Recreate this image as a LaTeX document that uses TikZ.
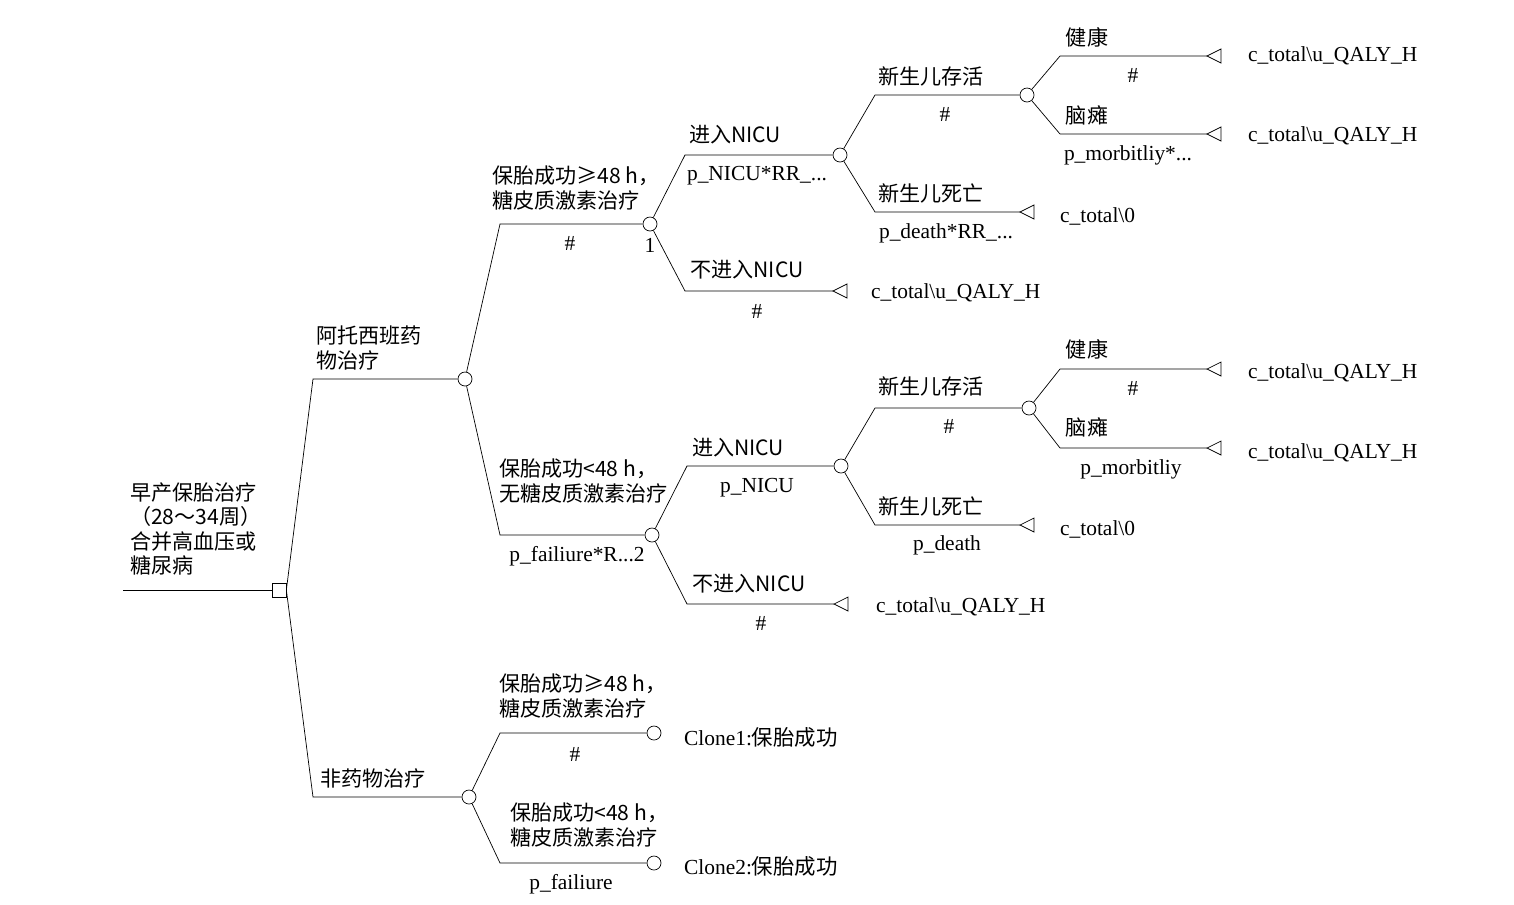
\documentclass[tikz,border=0pt]{standalone}
\usepackage{fontspec}
\setmainfont{Liberation Serif}
\newfontfamily\cjk{Noto Sans CJK SC}
\usetikzlibrary{positioning}

\tikzset{
  chance/.style={circle,draw,fill=white,inner sep=0pt,minimum size=0.28cm},
  decide/.style={rectangle,draw,fill=white,inner sep=0pt,minimum size=0.28cm},
  lbl/.style={inner sep=1pt,font=\cjk\fontsize{12}{14}\selectfont},
  val/.style={inner sep=1pt,font=\fontsize{12.2}{14}\selectfont},
}
\newcommand\term[1]{\draw (#1) -- ++(14,-7) -- ++(0,14) -- cycle;}

\begin{document}
\begin{tikzpicture}[x=0.02cm,y=-0.02cm]
        \useasboundingbox (0,0) rectangle (1514,904);
        % root
        \coordinate (r0) at (123,590);
        \node[decide] (D) at (279,590) {};
        \draw (r0) -- (D);
        \node[lbl,align=left,anchor=west] (Dl) at (128,529) {早产保胎治疗\\（28～34周）\\合并高血压或\\糖尿病};
        % first level
        \node[chance] (A) at (465,379) {};
        \node[chance] (B) at (469,797) {};
        \coordinate (a0) at (313,379);
        \coordinate (b0) at (313,797);
        \draw (D.east) -- (a0) -- (A);
        \draw (D.east) -- (b0) -- (B);
        \node[lbl,align=left,anchor=south west] (Al) at (314,372) {阿托西班药\\物治疗};
        \node[lbl,anchor=south] (Bl) at (373,790) {非药物治疗};
        % atosiban
        \node[chance] (A1) at (650,224) {};
        \node[chance] (A2) at (652,535) {};
        \coordinate (a1) at (500,224);
        \coordinate (a2) at (500,535);
        \draw (A) -- (a1) -- (A1);
        \draw (A) -- (a2) -- (A2);
        \node[lbl,align=left,anchor=south west] (A1l) at (490,212) {保胎成功≥48 h，\\糖皮质激素治疗};
        \node[val] (A1p) at (570,243) {\#};
        \node[val] (A1n) at (650,245) {1};
        \node[lbl,align=left,anchor=south west] (A2l) at (497,505) {保胎成功<48 h，\\无糖皮质激素治疗};
        \node[val] (A2p) at (577,556) {p\_failiure*R...2};
        % upper NICU
        \node[chance] (N1) at (840,155) {};
        \coordinate (n1) at (685,155);
        \coordinate (m1) at (685,291);
        \coordinate (m1t) at (833,291);
        \draw (A1) -- (n1) -- (N1);
        \draw (A1) -- (m1) -- (m1t);
        \term{m1t}
        \node[lbl,anchor=south] (N1l) at (735,146) {进入NICU};
        \node[val] (N1p) at (757,176) {p\_NICU*RR\_...};
        \node[lbl,anchor=south] (M1l) at (747,281) {不进入NICU};
        \node[val] (M1p) at (757,311) {\#};
        \node[val,anchor=west] (M1v) at (869,293) {c\_total\textbackslash u\_QALY\_H};
        % lower NICU
        \node[chance] (N2) at (841,466) {};
        \coordinate (n2) at (687,466);
        \coordinate (m2) at (687,604);
        \coordinate (m2t) at (834,604);
        \draw (A2) -- (n2) -- (N2);
        \draw (A2) -- (m2) -- (m2t);
        \term{m2t}
        \node[lbl,anchor=south] (N2l) at (738,459) {进入NICU};
        \node[val] (N2p) at (757,488) {p\_NICU};
        \node[lbl,anchor=south] (M2l) at (749,595) {不进入NICU};
        \node[val] (M2p) at (761,623) {\#};
        \node[val,anchor=west] (M2v) at (874,607) {c\_total\textbackslash u\_QALY\_H};
        % newborn, upper
        \node[chance] (S1) at (1027,95) {};
        \coordinate (s1) at (875,95);
        \coordinate (d1) at (875,212);
        \coordinate (d1t) at (1020,212);
        \draw (N1) -- (s1) -- (S1);
        \draw (N1) -- (d1) -- (d1t);
        \term{d1t}
        \node[lbl,anchor=south] (S1l) at (931,88) {新生儿存活};
        \node[val] (S1p) at (945,114) {\#};
        \node[lbl,anchor=south] (D1l) at (931,205) {新生儿死亡};
        \node[val] (D1p) at (946,233) {p\_death*RR\_...};
        \node[val,anchor=west] (D1v) at (1058,216) {c\_total\textbackslash 0};
        % newborn, lower
        \node[chance] (S2) at (1029,408) {};
        \coordinate (s2) at (875,408);
        \coordinate (d2) at (875,525);
        \coordinate (d2t) at (1020,525);
        \draw (N2) -- (s2) -- (S2);
        \draw (N2) -- (d2) -- (d2t);
        \term{d2t}
        \node[lbl,anchor=south] (S2l) at (931,398) {新生儿存活};
        \node[val] (S2p) at (949,426) {\#};
        \node[lbl,anchor=south] (D2l) at (931,518) {新生儿死亡};
        \node[val] (D2p) at (947,545) {p\_death};
        \node[val,anchor=west] (D2v) at (1058,529) {c\_total\textbackslash 0};
        % outcomes
        \coordinate (h1) at (1060,56);   \coordinate (h1t) at (1207,56);
        \coordinate (c1) at (1060,134);  \coordinate (c1t) at (1207,134);
        \coordinate (h2) at (1060,369);  \coordinate (h2t) at (1207,369);
        \coordinate (c2) at (1060,448);  \coordinate (c2t) at (1207,448);
        \draw (S1) -- (h1) -- (h1t);
        \draw (S1) -- (c1) -- (c1t);
        \draw (S2) -- (h2) -- (h2t);
        \draw (S2) -- (c2) -- (c2t);
        \term{h1t} \term{c1t} \term{h2t} \term{c2t}
        \node[lbl,anchor=south] (H1l) at (1087,49) {健康};
        \node[val] (H1p) at (1133,75) {\#};
        \node[lbl,anchor=south] (C1l) at (1087,127) {脑瘫};
        \node[val] (C1p) at (1128,155) {p\_morbitliy*...};
        \node[lbl,anchor=south] (H2l) at (1087,361) {健康};
        \node[val] (H2p) at (1133,388) {\#};
        \node[lbl,anchor=south] (C2l) at (1087,439) {脑瘫};
        \node[val] (C2p) at (1131,469) {p\_morbitliy};
        \node[val,anchor=west] (H1v) at (1246,56) {c\_total\textbackslash u\_QALY\_H};
        \node[val,anchor=west] (C1v) at (1246,136) {c\_total\textbackslash u\_QALY\_H};
        \node[val,anchor=west] (H2v) at (1246,373) {c\_total\textbackslash u\_QALY\_H};
        \node[val,anchor=west] (C2v) at (1246,453) {c\_total\textbackslash u\_QALY\_H};
        % non-drug
        \node[chance] (B1) at (654,733) {};
        \node[chance] (B2) at (654,863) {};
        \coordinate (b1) at (500,733);
        \coordinate (b2) at (500,863);
        \draw (B) -- (b1) -- (B1);
        \draw (B) -- (b2) -- (B2);
        \node[lbl,align=left,anchor=south west] (B1l) at (497,720) {保胎成功≥48 h，\\糖皮质激素治疗};
        \node[val] (B1p) at (575,754) {\#};
        \node[lbl,align=left,anchor=south west] (B2l) at (508,849) {保胎成功<48 h，\\糖皮质激素治疗};
        \node[val] (B2p) at (571,884) {p\_failiure};
        \node[val,anchor=west] (B1v) at (682,737) {Clone1:{\cjk 保胎成功}};
        \node[val,anchor=west] (B2v) at (682,866) {Clone2:{\cjk 保胎成功}};
\end{tikzpicture}
\end{document}
